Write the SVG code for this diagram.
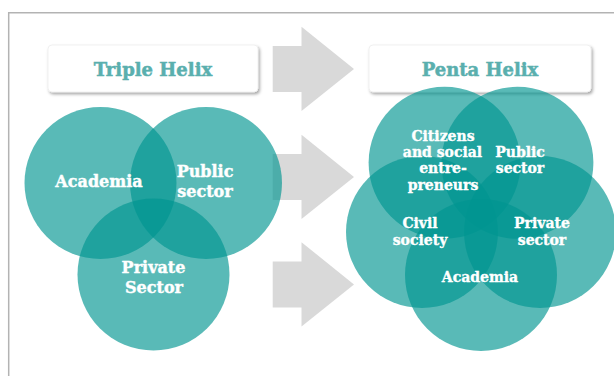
<svg xmlns="http://www.w3.org/2000/svg" width="614" height="376" viewBox="0 0 614 376">
<defs>
<style>
.frame{fill:none;stroke:#b3b3b3;stroke-width:1.5}
.tbox{fill:#ffffff;stroke:#e8e8e8;stroke-width:0.6}
.title{font-family:"DejaVu Serif","Liberation Serif",serif;font-weight:bold;font-size:18px;fill:#5aafae;stroke:#5aafae;stroke-width:0.5;text-anchor:middle}
.arrow{fill:#d9d9d9}
.c{fill:#009590;fill-opacity:0.65}
.lt{font-family:"DejaVu Serif","Liberation Serif",serif;font-weight:bold;font-size:16px;fill:#ffffff;stroke:#ffffff;stroke-width:0.4;text-anchor:middle}
.pt{font-family:"DejaVu Serif","Liberation Serif",serif;font-weight:bold;font-size:14px;fill:#ffffff;stroke:#ffffff;stroke-width:0.35;text-anchor:middle}
</style>
<filter id="sh" x="-10%" y="-20%" width="130%" height="160%">
<feDropShadow dx="1.5" dy="2" stdDeviation="1.5" flood-color="#000000" flood-opacity="0.35"/>
</filter>
<polygon id="arr" points="272.7,-23 301.5,-23 301.5,-42.3 354,0 301.5,42 301.5,23 272.7,23"/>
</defs>
<rect width="614" height="376" fill="#ffffff"/>
<path class="frame" d="M8.7,376 V12.7 H614"/>

<g id="connectors">
<use href="#arr" class="arrow" transform="translate(0,69)"/>
<use href="#arr" class="arrow" transform="translate(0,177)"/>
<use href="#arr" class="arrow" transform="translate(0,284.5)"/>
</g>

<g id="title-triple">
<rect class="tbox" x="48" y="45" width="210" height="47" rx="4" filter="url(#sh)"/>
<text class="title" x="153" y="76">Triple Helix</text>
</g>
<g id="title-penta">
<rect class="tbox" x="369" y="45" width="222" height="47" rx="4" filter="url(#sh)"/>
<text class="title" x="480" y="76">Penta Helix</text>
</g>

<g id="triple-academia"><circle class="c" cx="100.5" cy="183" r="76"/></g>
<g id="triple-public"><circle class="c" cx="206" cy="183" r="76"/></g>
<g id="triple-private"><circle class="c" cx="153.5" cy="274.5" r="76"/></g>
<g id="triple-labels">
<text class="lt" x="99" y="186.5">Academia</text>
<text class="lt" x="205" y="176.7">Public</text>
<text class="lt" x="205" y="196.7">sector</text>
<text class="lt" x="153.5" y="272.7">Private</text>
<text class="lt" x="154" y="292.7">Sector</text>
</g>

<g id="penta-citizens"><circle class="c" cx="444.6" cy="162.8" r="76"/></g>
<g id="penta-public"><circle class="c" cx="517.4" cy="162.8" r="76"/></g>
<g id="penta-civil"><circle class="c" cx="422" cy="232" r="76"/></g>
<g id="penta-private"><circle class="c" cx="540" cy="232" r="76"/></g>
<g id="penta-academia"><circle class="c" cx="481" cy="275" r="76"/></g>
<g id="penta-labels">
<text class="pt" x="443" y="141">Citizens</text>
<text class="pt" x="442.5" y="157">and social</text>
<text class="pt" x="443" y="173.3">entre-</text>
<text class="pt" x="443" y="190">preneurs</text>
<text class="pt" x="520" y="156.7">Public</text>
<text class="pt" x="520" y="173.3">sector</text>
<text class="pt" x="420" y="228.3">Civil</text>
<text class="pt" x="420" y="244.5">society</text>
<text class="pt" x="542" y="228.3">Private</text>
<text class="pt" x="542" y="244.5">sector</text>
<text class="pt" x="480" y="281.7">Academia</text>
</g>
</svg>
